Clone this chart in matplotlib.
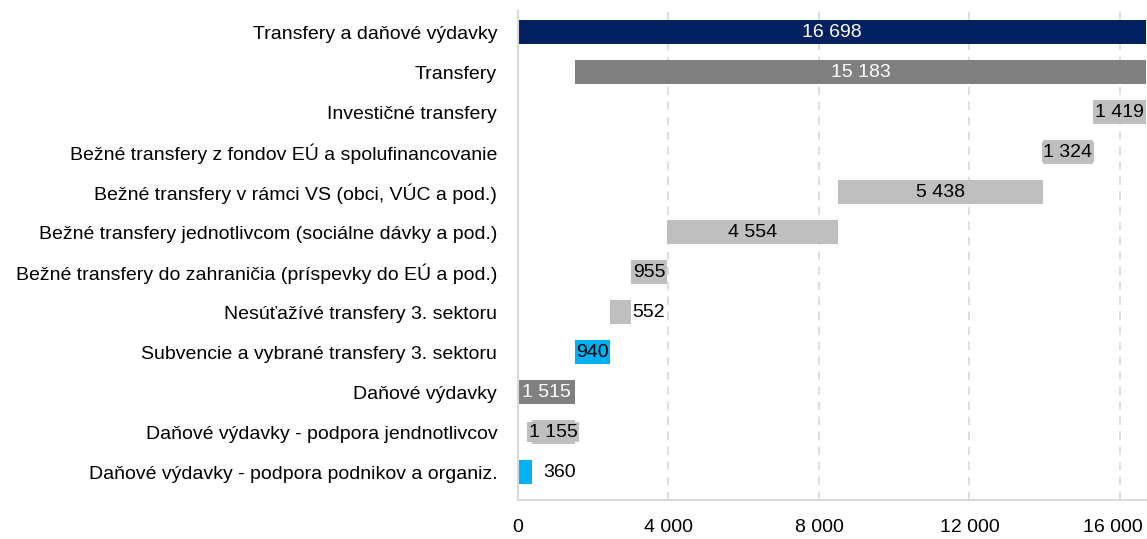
import matplotlib.pyplot as plt
from matplotlib.transforms import ScaledTranslation

# Data, listed from the bottom row of the chart to the top row
categories = [
    "Daňové výdavky - podpora podnikov a organiz.",
    "Daňové výdavky - podpora jendnotlivcov",
    "Daňové výdavky",
    "Subvencie a vybrané transfery 3. sektoru",
    "Nesúťažívé transfery 3. sektoru",
    "Bežné transfery do zahraničia (príspevky do EÚ a pod.)",
    "Bežné transfery jednotlivcom (sociálne dávky a pod.)",
    "Bežné transfery v rámci VS (obci, VÚC a pod.)",
    "Bežné transfery z fondov EÚ a spolufinancovanie",
    "Investičné transfery",
    "Transfery",
    "Transfery a daňové výdavky",
]
values = [360, 1155, 1515, 940, 552, 955, 4554, 5438, 1324, 1419, 15183, 16698]
kinds = ["step", "step", "sum", "step", "step", "step", "step", "step", "step", "step", "sum", "sum"]
groups = ["blue", "light", "dark", "blue", "light", "light", "light", "light", "light", "light", "dark", "navy"]
outside = [True, False, False, False, True, False, False, False, False, False, False, False]
ticks = [0, 4000, 8000, 12000, 16000]

colors = {"navy": "#002060", "dark": "#808080", "light": "#BFBFBF", "blue": "#00B0F0"}
text_colors = {"navy": "white", "dark": "white", "light": "black", "blue": "black"}

# waterfall bases from a running total
bases = []
running = 0
for v, k in zip(values, kinds):
    if k == "step":
        bases.append(running)
        running += v
    else:
        bases.append(max(0, running - v))

plt.rcParams["font.family"] = ["Liberation Sans", "DejaVu Sans"]
fs = 14

fig = plt.figure(figsize=(11.47, 5.39), dpi=100)
ax = fig.add_axes([518 / 1147, 39 / 539, 629 / 1147, 489 / 539])

y = list(range(len(categories)))
ax.barh(y, values, left=bases, height=0.6,
        color=[colors[g] for g in groups], zorder=2)

for i, (v, b, g, out) in enumerate(zip(values, bases, groups, outside)):
    label = f"{v:,}".replace(",", " ")
    if out:
        off = 300 if v < 500 else 20
        ax.text(b + v + off, i, label, ha="left", va="center",
                fontsize=fs, color="black", zorder=3)
    else:
        ax.text(b + v / 2, i, label, ha="center", va="center",
                fontsize=fs, color=text_colors[g], zorder=3,
                bbox=dict(facecolor=colors[g], edgecolor="none", pad=1.0))

ax.set_yticks(y)
ax.set_yticklabels(categories, fontsize=fs)
ax.set_xticks(ticks)
ax.set_xticklabels([f"{t:,}".replace(",", " ") for t in ticks], fontsize=fs)
ax.set_xlim(0, 16720)
ax.set_ylim(-0.7, 11.53)
ax.tick_params(axis="both", length=0)
ax.tick_params(axis="y", pad=15)
ax.tick_params(axis="x", pad=14)

# nudge the last tick label so it stays inside the figure
last = ax.get_xticklabels()[-1]
last.set_transform(last.get_transform() + ScaledTranslation(-5 / 72, 0, fig.dpi_scale_trans))

ax.grid(axis="x", color="#D9D9D9", linestyle=(0, (5, 4)), linewidth=1.2, zorder=1)
ax.xaxis.get_gridlines()[0].set_visible(False)
for side in ["top", "right"]:
    ax.spines[side].set_visible(False)
for side in ["left", "bottom"]:
    ax.spines[side].set_color("#D9D9D9")
    ax.spines[side].set_linewidth(1.5)

fig.savefig("out.png", dpi=100)
